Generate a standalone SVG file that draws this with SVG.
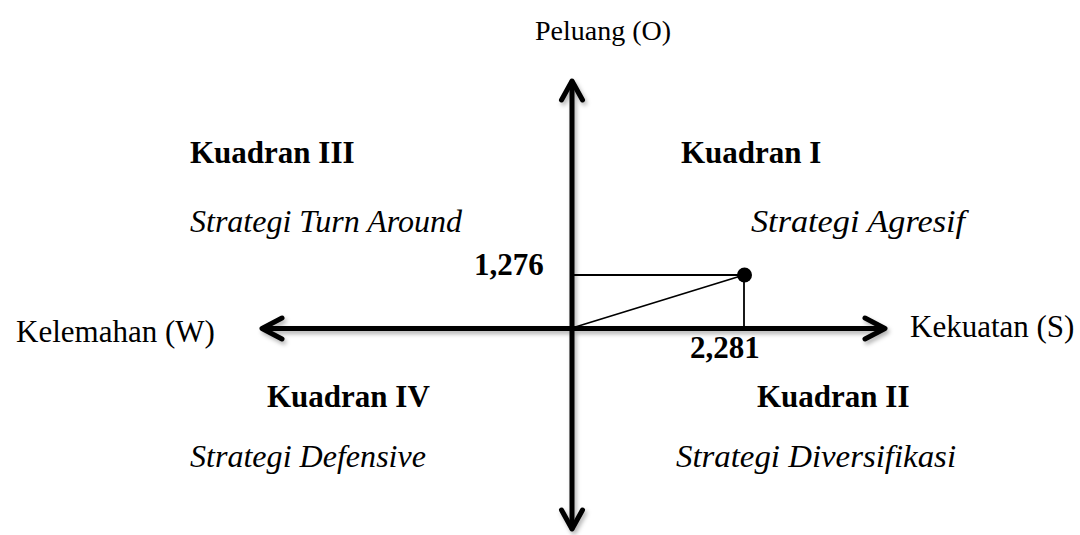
<svg xmlns="http://www.w3.org/2000/svg" width="1080" height="535" viewBox="0 0 1080 535">
<style>
text{font-family:"Liberation Serif","Times New Roman",serif;font-size:31px;fill:#000}
.b{font-weight:bold}
.i{font-style:italic;font-size:32px}
.axis{stroke:#000;stroke-width:5;fill:none;stroke-linecap:round;stroke-linejoin:round}
.thin{stroke:#000;stroke-width:1.8;fill:none}
</style>
<defs>
<filter id="sh" x="-20%" y="-20%" width="140%" height="140%">
<feDropShadow dx="2" dy="3" stdDeviation="2" flood-color="#000" flood-opacity="0.3"/>
</filter>
</defs>
<rect width="1080" height="535" fill="#fff"/>
<g id="connectors">
<g filter="url(#sh)">
<path class="axis" d="M572 82 V528"/>
<path class="axis" d="M561.5 100 L572 81 L582.5 100"/>
<path class="axis" d="M561.5 510 L572 529 L582.5 510"/>
<path class="axis" d="M263 328.5 H884"/>
<path class="axis" d="M282 318 L262 328.5 L282 339"/>
<path class="axis" d="M865 318 L885 328.5 L865 339"/>
</g>
<line class="thin" x1="572" y1="275" x2="744" y2="275"/>
<line class="thin" x1="744" y1="275" x2="744" y2="328"/>
<line class="thin" x1="572" y1="328" x2="744" y2="275"/>
<circle cx="744.5" cy="275" r="7.5" fill="#000"/>
</g>
<g id="label-o"><text x="535" y="40" style="font-size:28px">Peluang (O)</text></g>
<g id="label-w"><text x="16" y="342">Kelemahan (W)</text></g>
<g id="label-s"><text x="910" y="337">Kekuatan (S)</text></g>
<g id="q3"><text class="b" x="190" y="163">Kuadran III</text><text class="i" x="190" y="232" textLength="272" lengthAdjust="spacingAndGlyphs">Strategi Turn Around</text></g>
<g id="q1"><text class="b" x="681" y="163">Kuadran I</text><text class="i" x="751" y="232" textLength="214" lengthAdjust="spacingAndGlyphs">Strategi Agresif</text></g>
<g id="q4"><text class="b" x="267" y="407">Kuadran IV</text><text class="i" x="190" y="467" textLength="236" lengthAdjust="spacingAndGlyphs">Strategi Defensive</text></g>
<g id="q2"><text class="b" x="757" y="407">Kuadran II</text><text class="i" x="676" y="467" textLength="280" lengthAdjust="spacingAndGlyphs">Strategi Diversifikasi</text></g>
<g id="val-y"><text class="b" x="474" y="275">1,276</text></g>
<g id="val-x"><text class="b" x="690" y="358">2,281</text></g>
</svg>
